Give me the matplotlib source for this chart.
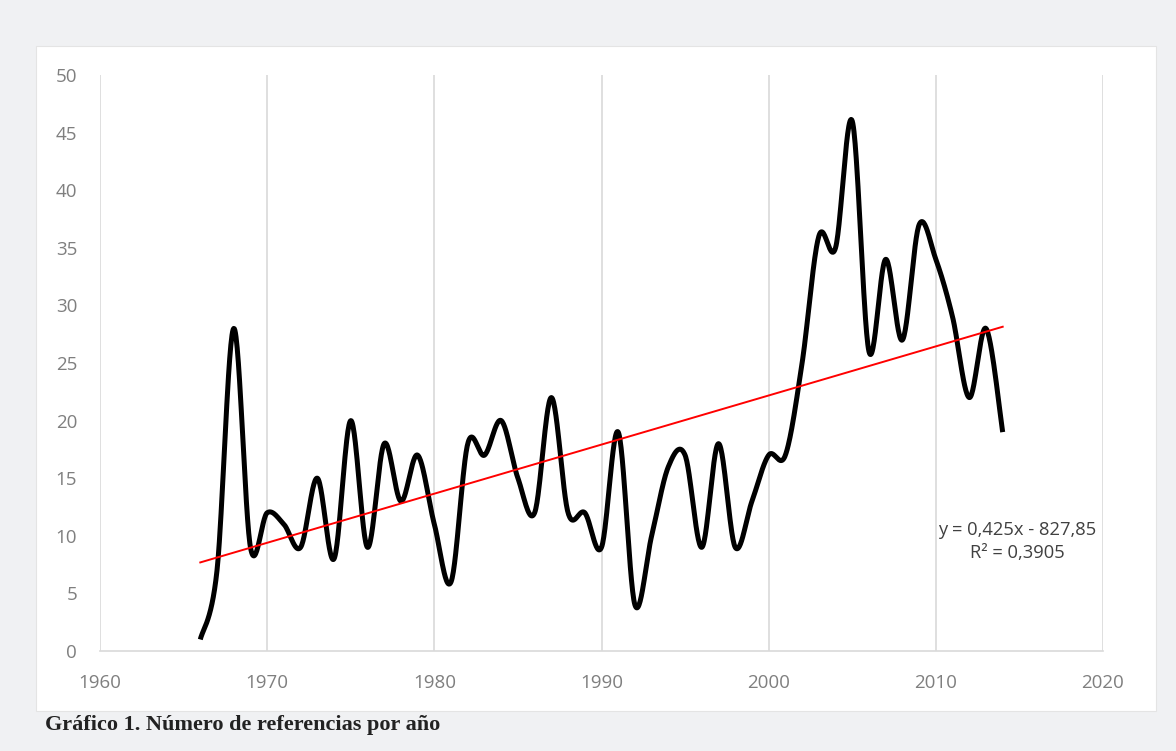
import numpy as np
import matplotlib.pyplot as plt
from matplotlib.patches import Rectangle

# referencias por año
years = list(range(1966, 2015))
refs = [1, 7, 28, 9, 12, 11, 9, 15, 8, 20,
        9, 18, 13, 17, 11, 6, 18, 17, 20, 15,
        12, 22, 12, 12, 9, 19, 4, 10, 16, 17,
        9, 18, 9, 13, 17, 17, 25, 36, 35, 46,
        26, 34, 27, 37, 34, 29, 22, 28, 19]

x_ticks = [1960, 1970, 1980, 1990, 2000, 2010, 2020]
y_ticks = [0, 5, 10, 15, 20, 25, 30, 35, 40, 45, 50]
eq_text = "y = 0,425x - 827,85\nR² = 0,3905"
caption = "Gráfico 1. Número de referencias por año"


def smooth_line(x, y, n=30):
    # curva suavizada tipo Excel (Catmull-Rom -> Bezier)
    x = np.asarray(x, float)
    y = np.asarray(y, float)
    px = np.concatenate([[x[0]], x, [x[-1]]])
    py = np.concatenate([[y[0]], y, [y[-1]]])
    xs, ys = [], []
    t = np.linspace(0, 1, n)
    for i in range(1, len(px) - 2):
        p0 = np.array([px[i], py[i]])
        p3 = np.array([px[i + 1], py[i + 1]])
        c1 = p0 + (p3 - np.array([px[i - 1], py[i - 1]])) / 6
        c2 = p3 - (np.array([px[i + 2], py[i + 2]]) - p0) / 6
        b = ((1 - t) ** 3)[:, None] * p0 + (3 * (1 - t) ** 2 * t)[:, None] * c1 \
            + (3 * (1 - t) * t ** 2)[:, None] * c2 + (t ** 3)[:, None] * p3
        xs.extend(b[:, 0])
        ys.extend(b[:, 1])
    return np.array(xs), np.array(ys)


fig = plt.figure(figsize=(11.76, 7.51), dpi=100)
fig.patch.set_facecolor('#f0f1f3')

# recuadro blanco del gráfico
fig.patches.append(Rectangle((36 / 1176, 1 - 711 / 751), 1120 / 1176, 665 / 751,
                             transform=fig.transFigure, facecolor='white',
                             edgecolor='#e4e4e4', linewidth=0.8, zorder=-5))

ax = fig.add_axes([100 / 1176, 1 - 651 / 751, 1003 / 1176, 576 / 751])
ax.set_facecolor('none')

sx, sy = smooth_line(years, refs)
ax.plot(sx, sy, color='black', linewidth=3.6, solid_capstyle='butt', zorder=3)

coef = np.polyfit(years, refs, 1)
fit_x = np.array([years[0], years[-1]])
ax.plot(fit_x, np.polyval(coef, fit_x), color='#ff0000', linewidth=1.4, zorder=4)

ax.text(2014.85, 9.5, eq_text, ha='center', va='center', fontsize=13.2,
        family='Open Sans', color='#404040', linespacing=1.3)

ax.set_xlim(1960, 2020)
ax.set_ylim(0, 50)
ax.set_xticks(x_ticks)
ax.set_yticks(y_ticks)
ax.xaxis.grid(True, color='#d9d9d9', linewidth=1.2)
ax.yaxis.grid(False)
ax.set_axisbelow(True)
for s in ['top', 'right', 'left']:
    ax.spines[s].set_visible(False)
ax.spines['bottom'].set_color('#d9d9d9')
ax.spines['bottom'].set_linewidth(1.2)
ax.tick_params(length=0, labelsize=13.5, labelcolor='#7f7f7f', pad=16.5)
for lab in ax.get_xticklabels() + ax.get_yticklabels():
    lab.set_family('Open Sans')

fig.text(45 / 1176, 1 - 725 / 751, caption, ha='left', va='center',
         fontsize=16, fontweight='bold', family='Liberation Serif', color='#222222')

fig.savefig('out.png', dpi=100, facecolor=fig.get_facecolor())
